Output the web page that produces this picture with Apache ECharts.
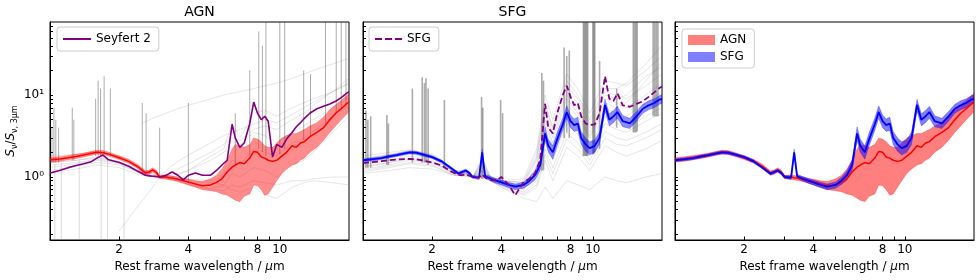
<!DOCTYPE html>
<html><head><meta charset="utf-8">
<script src="https://cdn.jsdelivr.net/npm/echarts@6/dist/echarts.min.js"></script>
<style>html,body{margin:0;padding:0;background:#fff}#c{width:980px;height:280px}</style>
</head><body><div id="c"></div>
<script>
// ---------- data ----------
const wl = [1.0,1.1,1.2,1.3,1.4,1.5,1.6,1.7,1.8, 2.0,2.2,2.4,2.6,2.7,2.8,2.9, 3.0,3.2,3.3,3.4,3.6,3.8, 4.0,4.3,4.6, 5.0,5.3,5.6,5.9, 6.2,6.4,6.7, 7.0,7.4,7.7, 8.0,8.3,8.6,8.9, 9.3,9.7, 10.2,10.7, 11.3,11.8, 12.3,12.8, 13.5,14.5,15.5,16.5,17.5,18.5,19.5,20];

const agnMedian = [1.62,1.66,1.72,1.78,1.85,1.93,2.00,1.98,1.90, 1.72,1.55,1.35,1.12,1.15,1.22,1.14, 1.00,1.00,0.98,0.97,0.94,0.90, 0.87,0.82,0.78, 0.80,0.86,0.95,1.15, 1.32,1.40,1.50, 1.45,1.70,2.05, 2.00,1.75,1.70,1.60, 1.55,1.60, 1.80,2.00, 2.40,2.30, 2.60,2.70, 3.10,3.50,4.00,5.00,6.00,6.80,7.80,8.20];
const agnLow = [1.52,1.56,1.62,1.68,1.75,1.83,1.90,1.88,1.80, 1.63,1.47,1.28,1.05,1.08,1.15,1.07, 0.95,0.94,0.92,0.91,0.88,0.84, 0.80,0.75,0.70, 0.68,0.66,0.62,0.60, 0.55,0.52,0.50, 0.58,0.62,0.80, 0.78,0.70,0.60,0.62, 0.75,0.90, 1.10,1.25, 1.40,1.45, 1.60,1.70, 2.00,2.30,2.80,3.50,4.20,5.00,5.80,6.30];
const agnHigh = [1.72,1.77,1.83,1.89,1.96,2.04,2.12,2.10,2.01, 1.82,1.64,1.43,1.19,1.22,1.30,1.21, 1.05,1.06,1.04,1.03,1.00,0.96, 0.94,0.90,0.88, 0.95,1.05,1.25,1.60, 2.20,2.50,2.40, 2.30,2.50,3.00, 2.90,2.70,2.40,2.30, 2.30,2.60, 3.00,3.20, 3.40,3.40, 3.60,3.80, 4.20,4.60,5.40,6.60,7.60,8.60,9.80,10.50];

const sfgMedian = [1.60,1.65,1.70,1.78,1.85,1.93,2.00,1.98,1.90, 1.75,1.55,1.30,1.10,1.15,1.20,1.12, 1.00,0.98,2.00,1.02,0.95,0.90, 0.86,0.80,0.76, 0.80,0.90,1.05,1.40, 3.40,2.40,2.00, 2.90,4.40,6.20, 4.80,4.30,4.50,3.00, 2.50,2.25, 2.40,3.00, 7.60,5.00, 5.50,6.20, 4.80,4.50,5.50,6.80,7.50,8.00,8.80,9.00];
const sfgLow = [1.54,1.58,1.63,1.71,1.78,1.85,1.92,1.90,1.82, 1.68,1.49,1.25,1.06,1.10,1.15,1.07, 0.96,0.93,1.80,0.96,0.89,0.84, 0.80,0.74,0.70, 0.73,0.81,0.92,1.20, 2.80,2.00,1.65, 2.40,3.70,5.20, 4.00,3.60,3.70,2.50, 2.05,1.85, 2.00,2.50, 6.40,4.20, 4.60,5.20, 4.10,3.90,4.80,6.00,6.60,7.00,7.70,7.90];
const sfgHigh = [1.66,1.72,1.77,1.85,1.92,2.01,2.08,2.06,1.98, 1.82,1.61,1.35,1.14,1.20,1.25,1.17, 1.04,1.03,2.20,1.08,1.01,0.96, 0.92,0.86,0.82, 0.87,0.99,1.18,1.62, 4.10,2.90,2.40, 3.50,5.20,7.40, 5.70,5.10,5.40,3.60, 3.00,2.70, 2.85,3.55, 8.90,5.90, 6.50,7.30, 5.60,5.20,6.30,7.70,8.50,9.00,9.90,10.10];

const seyfert2 = [1.12,1.20,1.30,1.38,1.45,1.52,1.70,1.85,1.62, 1.50,1.35,1.18,1.05,1.03,1.02,1.01, 1.00,1.05,1.10,1.15,1.05,0.92, 1.05,1.12,1.05, 1.05,1.20,1.40,1.60, 4.40,3.00,2.30, 2.60,4.50,8.20, 6.00,5.00,5.50,4.80, 1.75,2.50, 2.30,2.90, 3.50,4.10, 4.60,5.20, 6.00,6.80,7.30,7.80,8.40,9.30,10.50,11.00];
const sfgTemplate = [1.48,1.52,1.56,1.60,1.63,1.65,1.66,1.65,1.60, 1.50,1.38,1.18,1.06,1.05,1.08,1.04, 1.00,0.98,1.08,0.98,0.92,0.90, 1.00,0.80,0.60, 0.87,0.95,1.10,1.60, 7.80,4.00,3.40, 6.00,10.00,13.00, 9.50,7.50,8.00,5.50, 4.50,4.30, 4.40,6.00, 17.00,9.00, 8.50,10.50, 7.50,7.20,7.80,8.40,9.50,10.80,12.20,12.70];

// individual spectra (coarse grid)
const wlG = [1.0,1.3,1.6,2.0,2.5,2.8,3.0,3.3,3.6,4.0,5.0,5.7,6.2,6.7,7.7,8.6,9.7,11.3,12.7,14,17,20];
const agnGrey = [
  [null,null,null,0.22,0.50,0.75,1.0,1.3,1.55,1.85,2.6,3.2,3.5,3.8,4.4,5.0,4.6,5.8,7.0,8.2,11,14],
  [null,null,null,null,4.5,5.2,5.6,6.2,6.8,7.5,9.0,10,10.5,11,12,13,14,16,18,20,24,28],
  [1.5,1.6,1.75,1.55,1.15,1.1,1.0,0.97,0.9,0.82,0.72,0.8,1.1,1.0,1.3,1.2,1.0,1.4,1.6,2.0,3.5,5.5],
  [1.2,1.35,1.5,1.4,1.1,1.05,1.0,0.95,0.88,0.8,0.7,0.68,0.8,0.75,0.9,0.85,0.8,0.9,0.9,0.95,1.0,1.0],
  [1.8,1.9,2.05,1.8,1.2,1.15,1.0,1.02,1.0,0.95,0.9,1.0,1.6,1.4,2.2,2.0,1.8,2.6,3.0,3.6,5.5,7.5],
  [1.1,1.25,1.4,1.3,1.05,1.02,1.0,0.98,0.95,0.92,0.85,0.8,0.7,0.65,0.75,0.6,0.55,0.75,0.85,0.9,0.85,0.8],
  [1.4,1.5,1.65,1.5,1.1,1.05,1.0,1.05,1.1,1.2,1.6,2.0,2.8,2.4,3.5,3.2,2.6,3.5,4.2,5.0,7.0,9.5],
  [1.3,1.45,1.6,1.45,1.1,1.05,1.0,1.1,1.25,1.45,2.0,2.5,3.0,2.8,3.8,4.2,3.8,5.0,6.0,7.5,11,16],
  [1.5,1.6,1.7,1.55,1.15,1.1,1.0,1.0,1.05,1.2,1.8,2.2,4.5,3.0,6.0,6.5,5.5,7.0,8.0,9.0,11,14]
];
const sfgGrey = [
  [1.6,1.8,2.0,1.75,1.15,1.15,1.0,1.5,0.95,0.85,0.8,1.6,6.0,3.0,10.0,7.0,3.5,9.0,8.0,7.0,10.0,14.0],
  [1.3,1.5,1.7,1.55,1.1,1.1,1.0,1.3,0.92,0.82,0.7,1.2,3.5,1.8,5.5,4.0,2.2,5.5,4.5,4.0,5.5,7.0],
  [1.8,2.0,2.15,1.9,1.2,1.2,1.0,1.7,1.0,0.9,0.95,2.2,10.0,5.0,18.0,12.0,6.0,15.0,14.0,13.0,20.0,30.0],
  [1.2,1.35,1.5,1.4,1.05,1.05,1.0,1.2,0.9,0.75,0.6,0.75,1.6,0.9,2.3,1.8,1.2,2.4,2.0,1.8,2.2,2.8],
  [1.1,1.2,1.3,1.25,1.05,1.02,1.0,1.1,0.9,0.75,0.55,0.5,0.75,0.55,0.9,0.8,0.7,1.0,0.9,0.85,1.0,1.1],
  [1.7,1.85,2.05,1.85,1.2,1.15,1.0,1.6,1.0,0.88,0.85,1.8,7.5,3.8,13.0,9.0,4.5,11.0,10.0,9.0,13.0,18.0],
  [1.5,1.7,1.9,1.7,1.15,1.1,1.0,1.4,0.95,0.85,0.75,1.4,4.5,2.4,7.5,5.5,3.0,7.0,6.0,5.5,8.0,11.0],
  [1.4,1.6,1.8,1.6,1.1,1.1,1.0,1.3,0.95,0.85,0.8,1.3,5.0,2.6,9.0,6.0,3.2,8.0,7.0,8.0,15.0,25.0],
  [1.25,1.4,1.6,1.45,1.1,1.08,1.0,1.2,0.9,0.8,0.65,0.9,2.2,1.3,3.5,2.6,1.6,3.6,3.0,2.8,3.5,4.5],
  [1.55,1.75,1.95,1.7,1.15,1.12,1.0,1.4,0.95,0.86,0.9,2.0,8.0,4.0,15.0,10.0,5.0,12.0,12.0,14.0,24.0,40.0],
  [1.35,1.5,1.65,1.5,1.1,1.08,1.0,1.2,0.92,0.8,0.72,1.0,2.8,1.6,4.5,3.3,2.0,4.5,3.8,3.5,4.8,6.0],
  [1.65,1.9,2.1,1.8,1.18,1.12,1.0,1.5,0.98,0.9,0.85,1.7,6.5,3.4,11.0,8.0,4.0,10.0,9.0,10.0,17.0,22.0],
  [1.15,1.3,1.45,1.35,1.05,1.03,1.0,1.15,0.88,0.78,0.62,0.8,1.9,1.1,2.9,2.2,1.4,3.0,2.5,2.4,3.0,3.8]
];

// noisy spikes: wavelength, lower end, upper end
const agnSpikeWl = [1.02,1.04,1.06,1.09,1.25,1.27,1.58,1.62,1.66,1.72,1.83,2.52,2.62,3.0,4.0,6.4,7.4,8.1,8.4,8.7,10.0,10.5,12.7,13.6,15.8,17.6,18.5,19.4];
const agnSpikeLo = [1.5,1.5,1.5,1.5,1.6,1.6,1.8,1.8,1.8,1.9,1.8,1.1,1.1,1.0,0.9,1.4,1.8,2.2,2.0,1.8,1.9,2.2,2.8,3.2,4.5,6.0,6.8,7.8];
const agnSpikeHi = [4,7,5,4,7,5,9,15,12,17,12,8,6,4,8,6,20,60,40,80,80,80,20,18,80,80,80,80];
const agnDipWl = [1.05,1.12,1.34,1.67,1.78,2.1];
const agnDipLo = [0.17,0.17,0.17,0.17,0.17,0.17];
const agnDipHi = [1.4,1.5,1.6,1.7,1.7,1.4];

const sfgSpikeWl = [1.03,1.05,1.08,1.27,1.29,1.64,1.81,1.85,1.88,1.92,2.26,3.28,3.32,3.97,4.05,6.0,6.1,7.5,7.7,7.9,9.1,9.2,9.3,9.4,9.5,10.0,10.1,10.2,10.7,12.7,15.0,15.2,15.4,15.6,18.3,18.6,18.9,19.2];
const sfgSpikeLo = [1.3,1.3,1.3,1.4,1.4,1.5,1.5,1.5,1.5,1.4,1.3,0.95,0.95,0.85,0.85,1.2,1.2,3.0,3.5,3.0,1.8,1.8,1.8,1.8,1.8,1.9,1.9,2.0,2.2,4.0,3.5,3.5,3.5,3.6,5.5,5.5,5.5,5.5];
const sfgSpikeHi = [6.5,5,5.5,5.7,4.5,12,16.5,14,16,12,8.7,9.5,7,8.7,6,18.6,15,38,30,35,80,80,80,80,80,80,80,80,26,12,80,80,80,80,80,80,80,80];

const xTicks = [2,3,4,5,6,7,8,9,10];
const xLabels = [2,4,8,10];
const yTicks = [0.2,0.3,0.4,0.5,0.6,0.7,0.8,0.9,1,2,3,4,5,6,7,8,9,10,20,30,40,50,60,70];
const yLabels = [1,10];
const panelTitles = ['AGN','SFG',''];

// ---------- build ----------
const FONT = 'DejaVu Sans';
const lefts = [50,363,675];
const pairs = (xs, ys) => xs.map((x,i)=>[x, ys[i]]).filter(p => p[1] != null);

function lineS(g, xs, ys, color, width, extra) {
  return Object.assign({type:'line', xAxisIndex:g, yAxisIndex:g, data:pairs(xs,ys), showSymbol:false, symbol:'none',
    lineStyle:{color, width}, itemStyle:{color}, animation:false, silent:true, z:3}, extra||{});
}
function bandS(g, name, xs, lo, hi, color) {
  return {type:'custom', name, xAxisIndex:g, yAxisIndex:g, clip:true, silent:true, z:2,
    itemStyle:{color}, data:[[xs[0], lo[0]]],
    renderItem:(params, api) => {
      const pts = [];
      for (let i=0;i<xs.length;i++) pts.push(api.coord([xs[i], hi[i]]));
      for (let i=xs.length-1;i>=0;i--) pts.push(api.coord([xs[i], lo[i]]));
      return {type:'polygon', shape:{points:pts}, style:{fill:color, stroke:color, lineWidth:0.5}};
    }};
}
function spikeS(g, xs, lo, hi, color, width) {
  return {type:'custom', xAxisIndex:g, yAxisIndex:g, clip:true, silent:true, z:2,
    data: xs.map((x,i)=>[x, lo[i], hi[i]]),
    encode:{x:0, y:[1,2]},
    renderItem:(params, api) => {
      const a = api.coord([api.value(0), api.value(1)]);
      const b = api.coord([api.value(0), api.value(2)]);
      return {type:'line', shape:{x1:a[0], y1:a[1], x2:b[0], y2:b[1]}, style:{stroke:color, lineWidth:width}};
    }};
}

const grid = lefts.map(l => ({left:l, top:22, width:299, height:218, show:true, borderColor:'#000', borderWidth:1}));

const xAxis = lefts.map((l,i) => ({
  type:'log', logBase:10, gridIndex:i, min:1, max:20,
  axisLine:{show:true, lineStyle:{color:'#000', width:1}},
  axisTick:{show:true, inside:true, length:3.5, customValues:xTicks, lineStyle:{color:'#000'}},
  axisLabel:{show:true, customValues:xLabels, formatter:v => String(Math.round(v)), color:'#000', fontSize:12, fontFamily:FONT, margin:4},
  splitLine:{show:false}, minorTick:{show:false},
  name:'Rest frame wavelength / {it|μ}m', nameLocation:'middle', nameGap:20,
  nameTextStyle:{color:'#000', fontSize:12, fontFamily:FONT, rich:{it:{fontStyle:'italic', fontSize:12, fontFamily:FONT, color:'#000'}}}
}));

const yAxis = lefts.map((l,i) => ({
  type:'log', logBase:10, gridIndex:i, min:0.17, max:78,
  axisLine:{show:true, lineStyle:{color:'#000', width:1}},
  axisTick:{show:true, inside:true, length:3, customValues:yTicks, lineStyle:{color:'#000'}},
  axisLabel:{show:i===0, customValues:yLabels, formatter:v => Math.round(Math.log10(v))===0 ? '10⁰' : '10¹', color:'#000', fontSize:12, fontFamily:FONT, margin:6},
  splitLine:{show:false}, minorTick:{show:false},
  name: i===0 ? '{i|S}{s|ν}{n|/}{i|S}{s|ν, 3μm}' : '',
  nameLocation:'middle', nameRotate:90, nameGap:31,
  nameTextStyle:{color:'#000', fontFamily:FONT, fontSize:12, rich:{
    i:{fontStyle:'italic', fontSize:12, fontFamily:FONT, color:'#000', lineHeight:16, verticalAlign:'middle'},
    n:{fontSize:12, fontFamily:FONT, color:'#000', lineHeight:16, verticalAlign:'middle'},
    s:{fontSize:8, fontFamily:FONT, color:'#000', lineHeight:16, verticalAlign:'bottom', padding:[6,0,0,0]}
  }}
}));

const series = [];
const greyC = 'rgba(140,140,140,0.28)';
// panel 1
agnGrey.forEach(ys => series.push(lineS(0, wlG, ys, greyC, 0.8, {z:1})));
series.push(spikeS(0, agnDipWl, agnDipLo, agnDipHi, 'rgba(150,150,150,0.35)', 1));
series.push(spikeS(0, agnSpikeWl, agnSpikeLo, agnSpikeHi, 'rgba(70,70,70,0.45)', 1));
series.push(bandS(0, 'agnBand1', wl, agnLow, agnHigh, 'rgba(255,0,0,0.45)'));
series.push(lineS(0, wl, agnMedian, '#ff0000', 1.5));
series.push(lineS(0, wl, seyfert2, '#800080', 1.6, {name:'Seyfert 2', z:4}));
// panel 2
sfgGrey.forEach(ys => series.push(lineS(1, wlG, ys, greyC, 0.8, {z:1})));
series.push(spikeS(1, sfgSpikeWl, sfgSpikeLo, sfgSpikeHi, 'rgba(70,70,70,0.45)', 1.6));
series.push(bandS(1, 'sfgBand2', wl, sfgLow, sfgHigh, 'rgba(0,0,255,0.45)'));
series.push(lineS(1, wl, sfgMedian, '#0000ff', 1.8));
series.push(lineS(1, wl, sfgTemplate, '#800080', 1.8, {name:'SFG', z:4, lineStyle:{color:'#800080', width:1.8, type:[6,3]}}));
// panel 3
series.push(bandS(2, 'AGN band', wl, agnLow, agnHigh, 'rgba(255,0,0,0.5)'));
series.push(lineS(2, wl, agnMedian, '#ff0000', 1.5));
series.push(bandS(2, 'SFG band', wl, sfgLow, sfgHigh, 'rgba(0,0,255,0.5)'));
series.push(lineS(2, wl, sfgMedian, '#0000ff', 1.8));

const legendBase = {padding:[6,8,6,6], itemWidth:28, itemHeight:2, borderColor:'#cccccc', borderWidth:1, borderRadius:3,
  backgroundColor:'rgba(255,255,255,0.85)', selectedMode:false, textStyle:{fontSize:12, fontFamily:FONT, color:'#000'}};
const legend = [
  Object.assign({}, legendBase, {left:57, top:27, data:[{name:'Seyfert 2', icon:'path://M0,0H28V2H0Z'}]}),
  Object.assign({}, legendBase, {left:369, top:27, data:[{name:'SFG', icon:'path://M0,0H7V2H0Z M10,0H17V2H10Z M20,0H27V2H20Z'}], itemWidth:27}),
  Object.assign({}, legendBase, {left:682, top:29, orient:'vertical', data:['AGN band','SFG band'], icon:'rect',
    itemWidth:27, itemHeight:10, itemGap:5, padding:[5,8,5,6], formatter:n => n.replace(' band','')})
];

const graphic = panelTitles.map((t,i) => ({type:'text', x:lefts[i]+149.5, y:12,
  style:{text:t, font:'14px "DejaVu Sans"', fill:'#000', align:'center', verticalAlign:'middle', textAlign:'center', textVerticalAlign:'middle'}}));

const chart = echarts.init(document.getElementById('c'), null, {renderer:'canvas'});
chart.setOption({animation:false, backgroundColor:'#fff', grid, xAxis, yAxis, series, legend, graphic,
  textStyle:{fontFamily:FONT}});
</script></body></html>
